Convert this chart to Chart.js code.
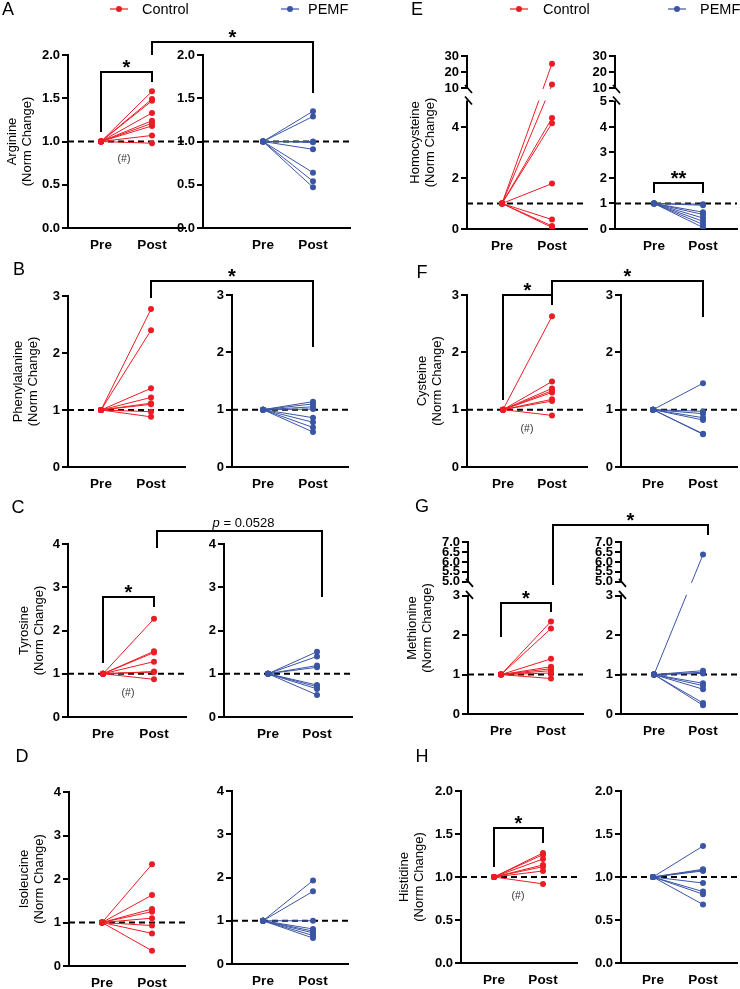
<!DOCTYPE html>
<html>
<head>
<meta charset="utf-8">
<script src="https://cdn.jsdelivr.net/npm/chart.js@4.4.0/dist/chart.umd.min.js"></script>
<style>
  body { margin: 0; background: #fff; width: 740px; height: 989px; position: relative; overflow: hidden;
         font-family: 'Liberation Sans', Arial, Helvetica, sans-serif; }
  canvas { position: absolute; }
  .t { position: absolute; white-space: nowrap; line-height: 1; transform: translate(-50%, -50%); color: #000; z-index: 10; }
</style>
</head>
<body>
<canvas id="overlay" width="740" height="989" style="left:0;top:0;z-index:5"></canvas>
<script>
var red = '#ec1c24';
var blue = '#3b55a5';

var timepoints = ['Pre', 'Post'];
var groups = ['Control', 'PEMF'];
var preValue = 1; // every subject normalised to Pre = 1

// Post values (norm change) per subject
var argCtrl = [1.58, 1.49, 1.47, 1.33, 1.24, 1.21, 1.18, 1.07, 0.98];
var argPemf = [1.35, 1.29, 1.00, 0.99, 0.91, 0.64, 0.54, 0.47];
var pheCtrl = [2.77, 2.40, 1.38, 1.22, 1.12, 1.10, 0.97, 0.88];
var phePemf = [1.14, 1.10, 1.05, 1.01, 0.86, 0.78, 0.69, 0.61];
var tyrCtrl = [2.27, 1.52, 1.49, 1.28, 1.05, 1.04, 0.87];
var tyrPemf = [1.51, 1.40, 1.19, 1.15, 0.74, 0.70, 0.65, 0.51];
var ileCtrl = [2.34, 1.63, 1.31, 1.25, 1.10, 0.93, 0.75, 0.35];
var ilePemf = [1.93, 1.68, 1.00, 0.81, 0.76, 0.72, 0.66, 0.60];
var hcyCtrl = [25.2, 12.1, 4.35, 4.15, 1.78, 0.37, 0.12, 0.06];
var hcyPemf = [0.97, 0.93, 0.66, 0.57, 0.43, 0.30, 0.18, 0.06];
var cysCtrl = [2.63, 1.49, 1.37, 1.33, 1.30, 1.18, 1.15, 0.90];
var cysPemf = [1.46, 0.97, 0.93, 0.86, 0.82, 0.58, 0.57];
var metCtrl = [2.35, 2.17, 1.40, 1.20, 1.15, 1.10, 1.04, 0.90];
var metPemf = [6.37, 1.10, 1.06, 1.03, 0.78, 0.72, 0.63, 0.28, 0.22];
var hisCtrl = [1.28, 1.26, 1.21, 1.14, 1.12, 1.07, 0.92];
var hisPemf = [1.36, 1.09, 1.08, 1.07, 0.93, 0.83, 0.80, 0.68];

// y tick values
var ticksHalf = [0, 0.5, 1, 1.5, 2];
var ticks3 = [0, 1, 2, 3];
var ticks4 = [0, 1, 2, 3, 4];
var hcyTicksCtrl = [0, 2, 4, 10, 20, 30];
var hcyTicksPemf = [0, 1, 2, 3, 4, 5, 10, 20, 30];
var metTicks = [0, 1, 2, 3, 5, 5.5, 6, 6.5, 7];

// broken axes: lower part up to lo, upper part from hi, squeezed by k
var hcyBreak = { lo: 5, hi: 10, gap: 0.53, k: 0.0627 };
var metBreak = { lo: 3, hi: 5, gap: 0.354, k: 0.506 };

function mapper(br) {
  if (!br) return function (v) { return v; };
  return function (v) { return v <= br.lo ? v : br.lo + br.gap + (v - br.hi) * br.k; };
}
function fix1(v) { return v.toFixed(1); }
function plain(v) { return String(v); }
function metFmt(v) { return v >= 5 ? v.toFixed(1) : String(v); }

// layout of every small chart (page pixels)
var panels = [
  { id: 'A', name: 'Arginine', ctrl: argCtrl, pemf: argPemf, ticks: [ticksHalf, ticksHalf], fmt: fix1, letter: [8, 9],
    g: [{ ax: 68, top: 55, bot: 228, right: 185, pre: 101, post: 152, tx: 12.5 },
        { ax: 203, top: 55, bot: 228, right: 350, pre: 263, post: 313 }] },
  { id: 'B', name: 'Phenylalanine', ctrl: pheCtrl, pemf: phePemf, ticks: [ticks3, ticks3], fmt: plain, letter: [19, 269],
    g: [{ ax: 68, top: 296, bot: 467, right: 185, pre: 101, post: 151, tx: 18 },
        { ax: 232, top: 295, bot: 467, right: 348, pre: 263, post: 313 }] },
  { id: 'C', name: 'Tyrosine', ctrl: tyrCtrl, pemf: tyrPemf, ticks: [ticks4, ticks4], fmt: plain, letter: [18, 507],
    g: [{ ax: 68, top: 544, bot: 717, right: 186, pre: 103, post: 154, tx: 24 },
        { ax: 224, top: 544, bot: 717, right: 352, pre: 268, post: 317 }] },
  { id: 'D', name: 'Isoleucine', ctrl: ileCtrl, pemf: ilePemf, ticks: [ticks4, ticks4], fmt: plain, letter: [22, 756],
    g: [{ ax: 69, top: 792, bot: 966, right: 185, pre: 102, post: 152, tx: 24 },
        { ax: 232, top: 791, bot: 964, right: 348, pre: 263, post: 313 }] },
  { id: 'E', name: 'Homocysteine', ctrl: hcyCtrl, pemf: hcyPemf, ticks: [hcyTicksCtrl, hcyTicksPemf], fmt: plain, brk: hcyBreak, letter: [417, 9],
    g: [{ ax: 467, top: 56, bot: 229, right: 587, pre: 502, post: 552, tx: 415 },
        { ax: 615, top: 56, bot: 229, right: 737, pre: 654, post: 703 }] },
  { id: 'F', name: 'Cysteine', ctrl: cysCtrl, pemf: cysPemf, ticks: [ticks3, ticks3], fmt: plain, letter: [422, 272],
    g: [{ ax: 467, top: 295, bot: 467, right: 587, pre: 503, post: 552, tx: 422 },
        { ax: 621, top: 295, bot: 467, right: 737, pre: 653, post: 703 }] },
  { id: 'G', name: 'Methionine', ctrl: metCtrl, pemf: metPemf, ticks: [metTicks, metTicks], fmt: metFmt, brk: metBreak, letter: [422, 506],
    g: [{ ax: 468, top: 542, bot: 714, right: 583, pre: 501, post: 551, tx: 412 },
        { ax: 621, top: 542, bot: 714, right: 737, pre: 654, post: 703 }] },
  { id: 'H', name: 'Histidine', ctrl: hisCtrl, pemf: hisPemf, ticks: [ticksHalf, ticksHalf], fmt: fix1, letter: [422, 756],
    g: [{ ax: 461, top: 791, bot: 963, right: 577, pre: 494, post: 543, tx: 404 },
        { ax: 621, top: 791, bot: 963, right: 737, pre: 653, post: 703 }] }
];

// significance brackets: [panel, side, x value, leg shift]
var brackets = [
  { a: ['A', 0, 0, 0], b: ['A', 0, 1, 0], top: 72, y1: 132, y2: 82, text: '*' },
  { a: ['A', 0, 1, 0], b: ['A', 1, 1, 0], top: 42, y1: 55, y2: 93, text: '*' },
  { a: ['B', 0, 1, 0], b: ['B', 1, 1, 0], top: 281, y1: 298, y2: 347, text: '*' },
  { a: ['C', 0, 0, 0], b: ['C', 0, 1, 0], top: 597, y1: 663, y2: 607, text: '*' },
  { a: ['C', 0, 1, 3], b: ['C', 1, 1, 5], top: 531, y1: 548, y2: 597, text: '<i>p</i> = 0.0528' },
  { a: ['E', 1, 0, 0], b: ['E', 1, 1, 0], top: 183, y1: 193, y2: 193, text: '**' },
  { a: ['F', 0, 0, 0], b: ['F', 0, 1, 0], top: 295, y1: 400, y2: 305, text: '*' },
  { a: ['F', 0, 1, 0], b: ['F', 1, 1, 0], top: 281, y1: 305, y2: 317, text: '*' },
  { a: ['G', 0, 0, 0], b: ['G', 0, 1, 0], top: 603, y1: 637, y2: 612, text: '*' },
  { a: ['G', 0, 1, 2], b: ['G', 1, 1, 5], top: 525, y1: 585, y2: 535, text: '*' },
  { a: ['H', 0, 0, 0], b: ['H', 0, 1, 0], top: 828, y1: 867, y2: 843, text: '*' }
];
var hashNotes = [[124, 158], [128, 692], [527, 428], [518, 895]];

Chart.defaults.font.family = "'Liberation Sans', Arial, Helvetica, sans-serif";
Chart.defaults.color = '#000';

var charts = {};

function buildChart(p, side) {
  var g = p.g[side];
  var map = mapper(p.brk);
  var vals = side === 0 ? p.ctrl : p.pemf;
  var col = side === 0 ? red : blue;
  var tickVals = p.ticks[side];
  var padTop = 14, xH = 30, padR = 6;
  var left = Math.round(side === 0 ? g.tx - 9.5 : g.ax - 45);
  var yW = g.ax - left;
  var cv = document.createElement('canvas');
  cv.width = Math.round(g.right + padR - left);
  cv.height = (g.bot - g.top) + padTop + xH;
  cv.style.left = left + 'px';
  cv.style.top = (g.top - padTop) + 'px';
  document.body.appendChild(cv);

  var unit = g.post - g.pre;
  var xmin = -(g.pre - g.ax) / unit;
  var xmax = (g.right - g.pre) / unit;

  var ds = [{ data: [{ x: xmin, y: 1 }, { x: xmax, y: 1 }], borderColor: '#000', borderWidth: 2,
              borderDash: [6, 4], pointRadius: 0, order: 1 }];
  vals.forEach(function (v) {
    ds.push({ data: [{ x: 0, y: map(preValue) }, { x: 1, y: map(v) }], borderColor: col, backgroundColor: col,
              borderWidth: 1, pointRadius: 3, pointBorderWidth: 0, order: 0 });
  });

  var chart = new Chart(cv.getContext('2d'), {
    type: 'line',
    data: { datasets: ds },
    options: {
      responsive: false,
      animation: false,
      events: [],
      layout: { padding: { top: padTop, right: padR, left: 0, bottom: 0 }, autoPadding: false },
      plugins: { legend: { display: false }, tooltip: { enabled: false } },
      scales: {
        x: {
          type: 'linear', min: xmin, max: xmax,
          afterFit: function (s) { s.height = xH; },
          afterBuildTicks: function (s) { s.ticks = [{ value: 0 }, { value: 1 }]; },
          ticks: { autoSkip: false, maxRotation: 0, padding: 9, font: { size: 13.5, weight: 'bold' },
                   callback: function (v, i) { return timepoints[i]; } },
          grid: { display: false, drawTicks: false, tickLength: 0 },
          border: { color: '#000', width: 2 }
        },
        y: {
          type: 'linear', min: 0, max: map(tickVals[tickVals.length - 1]),
          afterFit: function (s) { s.width = yW; },
          afterBuildTicks: function (s) { s.ticks = tickVals.map(function (v) { return { value: map(v) }; }); },
          ticks: { autoSkip: false, padding: 2, font: { size: 13, weight: 'bold' },
                   callback: function (v, i) { return p.fmt(tickVals[i]); } },
          grid: { drawOnChartArea: false, drawTicks: true, tickLength: 6, color: '#000', lineWidth: 2 },
          border: { color: '#000', width: 2 },
          title: side === 0
            ? { display: true, text: [p.name, '(Norm Change)'], font: { size: 13, lineHeight: 1.15 }, padding: { top: 2, bottom: 0 } }
            : { display: false }
        }
      }
    },
    plugins: [{
      id: 'axisBreak',
      afterDatasetsDraw: function (c) {
        if (!p.brk) return;
        var ys = c.scales.y, area = c.chartArea, ctx = c.ctx;
        var yLo = ys.getPixelForValue(map(p.brk.lo));
        var yHi = ys.getPixelForValue(map(p.brk.hi));
        ctx.save();
        ctx.fillStyle = '#fff';
        ctx.fillRect(area.left - 2, yHi + 1, area.right - area.left + 4, yLo - yHi - 2);
        ctx.strokeStyle = '#000';
        ctx.lineWidth = 1.8;
        ctx.beginPath();
        ctx.moveTo(area.left - 2, yHi - 3); ctx.lineTo(area.left + 5, yHi + 5);
        ctx.moveTo(area.left - 2, yLo - 5); ctx.lineTo(area.left + 5, yLo + 3);
        ctx.stroke();
        ctx.restore();
      }
    }]
  });
  charts[p.id + side] = { chart: chart, left: left, top: g.top - padTop };
}

panels.forEach(function (p) { buildChart(p, 0); buildChart(p, 1); });

function pageX(ref) {
  var c = charts[ref[0] + ref[1]];
  return c.left + c.chart.scales.x.getPixelForValue(ref[2]) + (ref[3] || 0);
}

function addText(html, x, y, css) {
  var d = document.createElement('div');
  d.className = 't';
  d.innerHTML = html;
  d.style.left = x + 'px';
  d.style.top = y + 'px';
  d.style.cssText += css;
  document.body.appendChild(d);
}

var ov = document.getElementById('overlay').getContext('2d');
ov.strokeStyle = '#000';
ov.lineWidth = 2;
ov.lineJoin = 'miter';
brackets.forEach(function (b) {
  var x1 = pageX(b.a), x2 = pageX(b.b);
  ov.beginPath();
  ov.moveTo(x1, b.y1); ov.lineTo(x1, b.top); ov.lineTo(x2, b.top); ov.lineTo(x2, b.y2);
  ov.stroke();
  var mx = (x1 + x2) / 2;
  if (b.text.indexOf('*') === 0) {
    addText(b.text, mx, b.top - 9.5 + 4.5, 'font-size:20px;font-weight:bold;');
  } else {
    addText(b.text, mx + 4, b.top - 9, 'font-size:13px;');
  }
});

hashNotes.forEach(function (h) { addText('(#)', h[0], h[1], 'font-size:10.5px;color:#333;'); });

panels.forEach(function (p) { addText(p.id, p.letter[0], p.letter[1], 'font-size:18px;'); });

// legends above both columns
function legendItem(cx, tx, col, label) {
  ov.strokeStyle = col;
  ov.lineWidth = 1.2;
  ov.beginPath(); ov.moveTo(cx - 9, 9); ov.lineTo(cx + 9, 9); ov.stroke();
  ov.fillStyle = col;
  ov.beginPath(); ov.arc(cx, 9, 3, 0, Math.PI * 2); ov.fill();
  addText(label, tx, 9, 'font-size:14.5px;transform:translate(0,-50%);');
}
legendItem(119, 142, red, groups[0]);
legendItem(290, 308, blue, groups[1]);
legendItem(519, 543, red, groups[0]);
legendItem(677, 700, blue, groups[1]);
</script>
</body>
</html>
